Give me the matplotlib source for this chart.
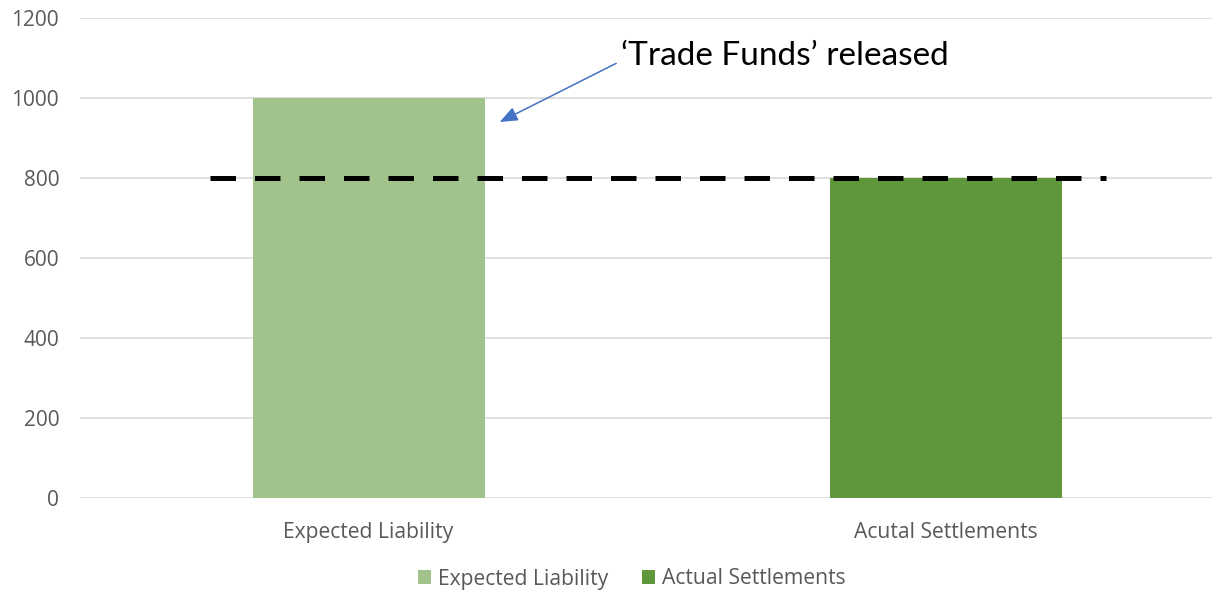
import matplotlib
matplotlib.use("Agg")
import matplotlib.pyplot as plt
from matplotlib.patches import Patch

plt.rcParams['font.family'] = ['Open Sans', 'DejaVu Sans']

# chart data
categories = ["Expected Liability", "Acutal Settlements"]
series_names = ["Expected Liability", "Actual Settlements"]
values = [1000, 800]
threshold = 800
yticks = [0, 200, 400, 600, 800, 1000, 1200]
note = "\u2018Trade Funds\u2019 released"

bar_colors = ["#A1C38B", "#5F983B"]
grey = "#595959"

fig = plt.figure(figsize=(12.12, 5.90), dpi=100)
ax = fig.add_axes([0.066, 0.156, 0.934, 0.8135])

xpos = list(range(len(categories)))
for x, v, c, name in zip(xpos, values, bar_colors, series_names):
    ax.bar(x, v, width=0.402, color=c, label=name, zorder=2)

# dashed reference line across both bars
ax.plot([-0.275, 1.278], [threshold, threshold], color="black", lw=3.6,
        dashes=(5.1, 3.8), solid_capstyle="butt", dash_capstyle="butt", zorder=3)

ax.set_xlim(-0.5, 1.461)
ax.set_ylim(0, 1200)
ax.set_yticks(yticks)
ax.set_xticks(xpos)
ax.set_xticklabels(categories)
ax.tick_params(axis="y", length=0, pad=15, labelsize=15, labelcolor=grey)
ax.tick_params(axis="x", length=0, pad=17, labelsize=15.2, labelcolor=grey)
ax.grid(axis="y", color="#D9D9D9", lw=1.2, zorder=0)
ax.set_axisbelow(True)
for s in ax.spines.values():
    s.set_visible(False)

ax.annotate(note, xy=(0.227, 940), xytext=(0.438, 1082), textcoords="data",
            fontsize=24, family=["Lato", "DejaVu Sans"], color="black",
            ha="left", va="baseline",
            arrowprops=dict(arrowstyle="-|>,head_length=0.45,head_width=0.18",
                            color="#4472C4", lw=1.1, shrinkA=2, shrinkB=0,
                            relpos=(0, 0.35)))

handles = [Patch(facecolor=c, label=n) for c, n in zip(bar_colors, series_names)]
fig.legend(handles=handles, loc="center", bbox_to_anchor=(0.521, 1 - 579 / 590),
           ncol=2, frameon=False, fontsize=15.2, labelcolor=grey,
           handlelength=0.65, handleheight=0.65, handletextpad=0.3, columnspacing=1.6)

fig.savefig("out.png", dpi=100)
